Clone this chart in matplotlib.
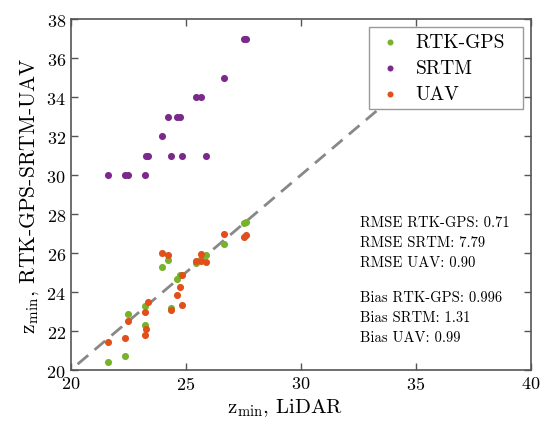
import matplotlib
matplotlib.use("Agg")
import matplotlib.pyplot as plt
import numpy as np

plt.rcParams['font.family'] = 'serif'
plt.rcParams['font.serif'] = ['cmr10']
plt.rcParams['mathtext.fontset'] = 'cm'
plt.rcParams['axes.formatter.use_mathtext'] = True

# LiDAR z_min vs. other sources
srtm_x = [21.64, 22.36, 22.5, 23.23, 23.27, 23.37, 23.98, 24.24, 24.35,
          24.64, 24.75, 24.84, 25.43, 25.67, 25.88, 26.67, 27.55, 27.62]
srtm_y = [30, 30, 30, 30, 31, 31, 32, 33, 31,
          33, 33, 31, 34, 34, 31, 35, 37, 37]

rtk_x = [21.64, 22.37, 22.5, 23.23, 23.23, 23.98, 24.24, 24.35,
         24.64, 24.75, 25.43, 25.67, 25.88, 26.67, 27.55, 27.62]
rtk_y = [20.39, 20.74, 22.87, 23.26, 22.32, 25.26, 25.66, 23.18,
         24.67, 24.89, 25.47, 25.69, 25.9, 26.44, 27.54, 27.6]

uav_x = [21.64, 22.37, 22.5, 23.23, 23.27, 23.23, 23.37, 23.98, 24.24,
         24.35, 24.64, 24.75, 24.84, 24.84, 25.43, 25.67, 25.67, 25.88,
         26.67, 27.55, 27.62]
uav_y = [21.42, 21.65, 22.54, 21.81, 22.10, 22.96, 23.47, 26.0, 25.91,
         23.08, 23.85, 24.26, 23.33, 24.89, 25.6, 25.95, 25.6, 25.52,
         26.98, 26.8, 26.94]

rmse_lines = ["RMSE RTK-GPS: 0.71", "RMSE SRTM: 7.79", "RMSE UAV: 0.90"]
bias_lines = ["Bias RTK-GPS: 0.996", "Bias SRTM: 1.31", "Bias UAV: 0.99"]

green = '#77b22a'
purple = '#7b2a8c'
orange = '#e24f1a'
edge = '#555555'

fig = plt.figure(figsize=(5.48, 4.27), dpi=100)
ax = fig.add_axes([0.129, 0.131, 0.84, 0.822])

# 1:1 line (hidden under the legend at the top)
one = np.array([20.3, 35])
ax.plot(one, one, ls='--', color='#888888', lw=2, dashes=(5, 3), zorder=1)

ax.scatter(rtk_x, rtk_y, s=26, color=green, label='RTK-GPS', zorder=3, lw=0)
ax.scatter(srtm_x, srtm_y, s=26, color=purple, label='SRTM', zorder=3, lw=0)
ax.scatter(uav_x, uav_y, s=26, color=orange, label='UAV', zorder=3, lw=0)

ax.set_xlim(20, 40)
ax.set_ylim(20, 38)
ax.set_xticks(np.arange(20, 41, 5))
ax.set_yticks(np.arange(20, 39, 2))
ax.tick_params(direction='in', top=True, right=True, labelsize=13,
               color=edge, length=5, width=1)
for sp in ax.spines.values():
    sp.set_color(edge)
    sp.set_linewidth(1.2)

ax.set_xlabel(r'$\mathrm{z_{min}}$, LiDAR', fontsize=15, labelpad=6)
ax.xaxis.set_label_coords(0.466, -0.075)
ax.set_ylabel(r'$\mathrm{z_{min}}$, RTK-GPS-SRTM-UAV', fontsize=15.5, labelpad=4)

leg = ax.legend(loc='upper left', bbox_to_anchor=(0.648, 0.0, 0.335, 0.977),
                mode='expand', borderaxespad=0,
                fontsize=14, scatterpoints=1, markerscale=0.85,
                fancybox=False, framealpha=1, edgecolor='#999999',
                handletextpad=0.5, borderpad=0.3, labelspacing=0.42,
                handlelength=1.6)
leg.set_zorder(5)
leg.get_frame().set_linewidth(1)

step = 0.057
y0 = 0.4217
for i, s in enumerate(rmse_lines):
    ax.text(0.628, y0 - i * step, s, transform=ax.transAxes, fontsize=10.5,
            va='center', ha='left')
y1 = y0 - 3.75 * step
for i, s in enumerate(bias_lines):
    ax.text(0.628, y1 - i * step, s, transform=ax.transAxes, fontsize=10.5,
            va='center', ha='left')

fig.savefig('out.png', dpi=100)
